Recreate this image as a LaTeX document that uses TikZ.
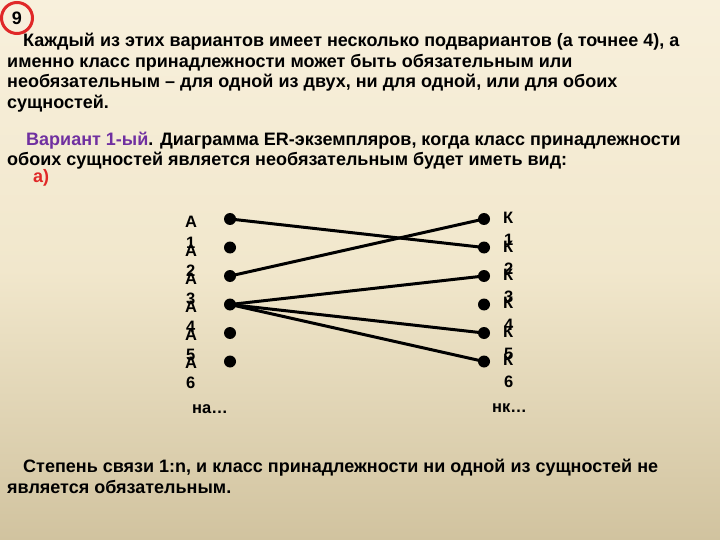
\documentclass[tikz,border=0pt]{standalone}
\usepackage{fontspec}
\setmainfont{Liberation Sans}
\definecolor{bgtop}{HTML}{F8F0DC}
\definecolor{bgmid}{HTML}{F1E7CC}
\definecolor{bgbot}{HTML}{D1C39F}
\definecolor{varpurple}{HTML}{7030A0}
\definecolor{redtxt}{HTML}{E02828}
\tikzset{
  txt/.style={anchor=base west, inner sep=0pt, font=\fontsize{18}{21}\selectfont\bfseries},
  lbl/.style={anchor=base west, inner sep=0pt, font=\fontsize{16.5}{19}\selectfont\bfseries},
  dot/.style={circle, fill=black, inner sep=0pt, minimum size=12pt},
  link/.style={line width=3pt, black}
}
\begin{document}
\begin{tikzpicture}[x=1pt,y=-1pt]
\useasboundingbox (0,0) rectangle (720,540);
\shade[top color=bgtop, bottom color=bgbot, middle color=bgmid] (0,0) rectangle (720,540);
% number badge
\node[circle, draw=redtxt, line width=3pt, minimum size=31pt, inner sep=0pt,
      font=\fontsize{18}{21}\selectfont\bfseries] (badge) at (17,18) {9};
% paragraph text
\node[txt] (t1) at (23,47) {Каждый из этих вариантов имеет несколько подвариантов (а точнее 4), а};
\node[txt] (t2) at (7,67.5) {именно класс принадлежности может быть обязательным или};
\node[txt] (t3) at (7,88) {необязательным – для одной из двух, ни для одной, или для обоих};
\node[txt] (t4) at (7,109) {сущностей.};
\node[txt] (t5) at (26,146) {\textcolor{varpurple}{Вариант 1-ый}. Диаграмма ER-экземпляров, когда класс принадлежности};
\node[txt] (t6) at (7,166) {обоих сущностей является необязательным будет иметь вид:};
\node[txt, text=redtxt] (t7) at (33,183) {а)};
% dots
\foreach \i/\y in {1/219,2/247.5,3/276,4/304.5,5/333,6/361.5}{
  \node[dot] (L\i) at (230,\y) {};
  \node[dot] (R\i) at (484,\y) {};
}
% left labels
\foreach \i/\y in {1/228,2/256,3/284,4/312,5/340,6/368}{
  \node[lbl] (la\i) at (185,\y) {А};
  \node[lbl] (ln\i) at (186,\y+20) {\i};
}
\node[lbl] (na) at (192,413) {на…};
% right labels
\foreach \i/\y in {1/223,2/252,3/280,4/308,5/337,6/365}{
  \node[lbl] (rk\i) at (503,\y) {К};
  \node[lbl] (rn\i) at (504,\y+22) {\i};
}
\node[lbl] (nk) at (492,412) {нк…};
% links
\draw[link] (L1.center) -- (R2.center);
\draw[link] (L3.center) -- (R1.center);
\draw[link] (L4.center) -- (R3.center);
\draw[link] (L4.center) -- (R5.center);
\draw[link] (L4.center) -- (R6.center);
% bottom text
\node[txt] (b1) at (23,472) {Степень связи 1:n, и класс принадлежности ни одной из сущностей не};
\node[txt] (b2) at (7,493) {является обязательным.};
\end{tikzpicture}
\end{document}
